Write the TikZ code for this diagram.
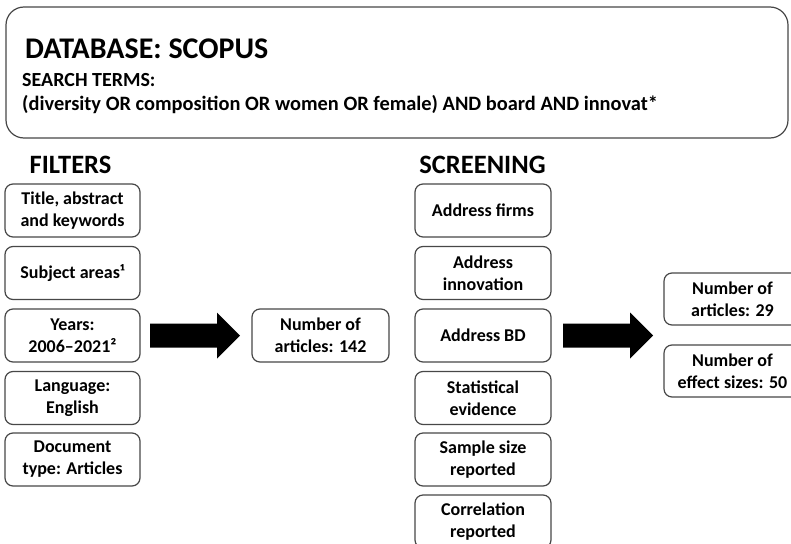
\documentclass[tikz,border=0pt]{standalone}
\usepackage{fontspec}
\setmainfont{Carlito}
\begin{document}
\begin{tikzpicture}[x=1pt,y=-1pt,
  boxline/.style={draw=black!72, line width=1.2pt},
  fbox/.style={boxline, rounded corners=8pt, minimum width=135pt, minimum height=53pt,
    align=center, inner sep=0pt, font=\fontsize{18}{22}\selectfont\bfseries},
  headtxt/.style={anchor=base, inner sep=0pt, font=\fontsize{26.5}{30}\selectfont\bfseries},
  toptxt/.style={anchor=base west, inner sep=0pt},
  blockarrow/.style={fill=black, draw=none}
]
\useasboundingbox (0,0) rectangle (791,543);

% top box
\node[boxline, rounded corners=18pt, minimum width=782pt, minimum height=131pt, inner sep=0pt] (db) at (397,72.5) {};
\node[toptxt, font=\fontsize{30}{34}\selectfont\bfseries] (dbt) at (25,59) {DATABASE: SCOPUS};
\node[toptxt, font=\fontsize{20}{24}\selectfont\bfseries] (st) at (22,86) {SEARCH TERMS:};
\node[toptxt, font=\fontsize{20.4}{24}\selectfont\bfseries] (q) at (22,110) {(diversity OR composition OR women OR female) AND board AND innovat*};

% headings
\node[headtxt] (fh) at (70.5,173) {FILTERS};
\node[headtxt] (sh) at (482.5,173) {SCREENING};

% filters
\node[fbox] (f1) at (72.5,210.5) {Title, abstract\\and keywords};
\node[fbox] (f2) at (72.5,273) {Subject areas¹};
\node[fbox] (f3) at (72.5,335.5) {Years:\\2006–2021²};
\node[fbox] (f4) at (72.5,398) {Language:\\English};
\node[fbox] (f5) at (72.5,459.5) {Document\\type: Articles};

% result 1
\node[fbox, minimum width=137pt] (n1) at (320.5,335.5) {Number of\\articles: 142};

% screening
\node[fbox, minimum width=136pt] (s1) at (483,210.5) {Address firms};
\node[fbox, minimum width=136pt] (s2) at (483,273) {Address\\innovation};
\node[fbox, minimum width=136pt] (s3) at (483,335.5) {Address BD};
\node[fbox, minimum width=136pt] (s4) at (483,398) {Statistical\\evidence};
\node[fbox, minimum width=136pt] (s5) at (483,459.5) {Sample size\\reported};
\node[fbox, minimum width=136pt] (s6) at (483,521.5) {Correlation\\reported};

% final results
\node[fbox, minimum width=137pt, minimum height=52pt] (r1) at (732.5,299) {Number of\\articles: 29};
\node[fbox, minimum width=137pt, minimum height=52pt] (r2) at (732.5,371) {Number of\\effect sizes: 50};

% block arrows
\coordinate (a1) at (150,335.5);
\coordinate (a2) at (563,335.5);
\fill[blockarrow] (a1) ++(0,-12) -- ++(67,0) -- ++(0,-11) -- ++(23,23) -- ++(-23,23) -- ++(0,-11) -- ++(-67,0) -- cycle;
\fill[blockarrow] (a2) ++(0,-12) -- ++(67,0) -- ++(0,-11) -- ++(23,23) -- ++(-23,23) -- ++(0,-11) -- ++(-67,0) -- cycle;
\end{tikzpicture}
\end{document}
